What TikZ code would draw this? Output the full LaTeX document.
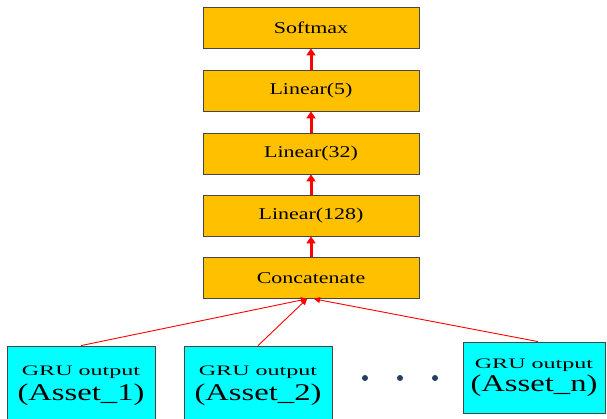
\documentclass[tikz,border=0pt]{standalone}
\usepackage{fontspec}
\usepackage{graphicx}
\setmainfont{Liberation Serif}
\usetikzlibrary{arrows.meta}
\definecolor{boxorange}{RGB}{255,192,0}
\definecolor{boxcyan}{RGB}{0,255,255}
\definecolor{edgegray}{RGB}{70,70,70}
\definecolor{dotblue}{RGB}{38,62,100}
\tikzset{
  layerbox/.style={draw=edgegray, line width=0.8pt, fill=boxorange, minimum width=216pt, minimum height=41pt, inner sep=0pt,
    font=\fontsize{16.5}{18}\selectfont},
  grubox/.style={draw=edgegray, line width=0.8pt, fill=boxcyan, inner sep=0pt, align=center},
  thickarrow/.style={draw=red, line width=3pt, -{Triangle[width=9pt,length=7pt]}},
  thinarrow/.style={draw=red, line width=0.9pt, -{Triangle[width=6pt,length=6pt]}},
  dotmark/.style={circle, fill=dotblue, inner sep=0pt, minimum size=6pt}
}
\newcommand{\wideL}[1]{\scalebox{1.33}[1]{#1}}
\newcommand{\gruL}{{\fontsize{14.5}{17}\selectfont\scalebox{1.66}[1]{GRU output}}}
\begin{document}
\begin{tikzpicture}[x=1pt,y=-1pt]
\useasboundingbox (0,0) rectangle (607,419);
\clip (0,0) rectangle (607,419);
\fill[white] (0,0) rectangle (607,419);
\node[layerbox] (soft) at (311,27.5) {\wideL{Softmax}};
\node[layerbox] (lin5) at (311,90.5) {\wideL{Linear(5)}};
\node[layerbox] (lin32) at (311,153.5) {\wideL{Linear(32)}};
\node[layerbox] (lin128) at (311,215.5) {\wideL{Linear(128)}};
\node[layerbox] (concat) at (311,278) {\wideL{Concatenate}};
\draw[thickarrow] (lin5.north) -- (soft.south);
\draw[thickarrow] (lin32.north) -- (lin5.south);
\draw[thickarrow] (lin128.north) -- (lin32.south);
\draw[thickarrow] (concat.north) -- (lin128.south);
\node[grubox, minimum width=148pt, minimum height=79pt, font=\fontsize{24}{25}\selectfont] (g1) at (81,385.5)
  {\gruL\\\scalebox{1.36}[1]{(Asset\_1)}};
\node[grubox, minimum width=148pt, minimum height=79pt, font=\fontsize{24}{25}\selectfont] (g2) at (258,385.5)
  {\gruL\\\scalebox{1.36}[1]{(Asset\_2)}};
\node[grubox, minimum width=142pt, minimum height=71pt, font=\fontsize{24}{23}\selectfont] (gn) at (534,377.5)
  {\gruL\\\scalebox{1.36}[1]{(Asset\_n)}};
\draw[thinarrow] (g1.north) -- ([xshift=-4pt]concat.south);
\draw[thinarrow] (g2.north) -- ([xshift=-4pt]concat.south);
\draw[thinarrow] ([xshift=4pt]gn.north) -- ([xshift=3pt]concat.south);
\node[dotmark] (d1) at (365,378) {};
\node[dotmark] (d2) at (400,378) {};
\node[dotmark] (d3) at (435,378) {};
\end{tikzpicture}
\end{document}
